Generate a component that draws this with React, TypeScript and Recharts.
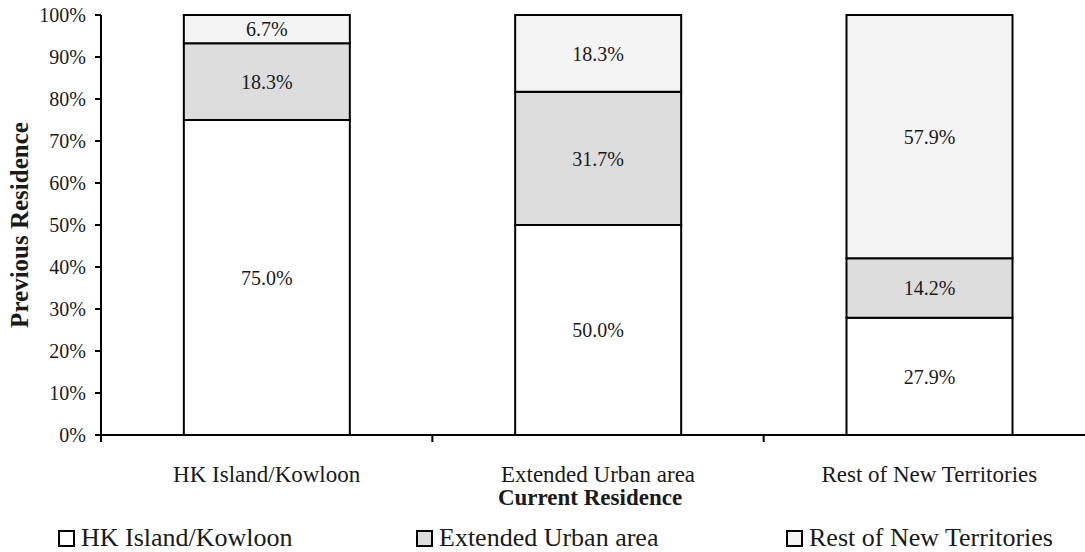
import { BarChart, Bar, XAxis, YAxis, Legend, LabelList } from 'recharts';

// current residence (x categories)
const categories = ['HK Island/Kowloon', 'Extended Urban area', 'Rest of New Territories'];

// previous residence shares, % of each current-residence group
const fromHkKowloon = [75.0, 50.0, 27.9];
const fromExtendedUrban = [18.3, 31.7, 14.2];
const fromRestOfNT = [6.7, 18.3, 57.9];

const yTicks = [0, 10, 20, 30, 40, 50, 60, 70, 80, 90, 100];

const series = [
  { key: 'hk', name: 'HK Island/Kowloon', fill: '#ffffff' },
  { key: 'urban', name: 'Extended Urban area', fill: '#dddddd' },
  { key: 'nt', name: 'Rest of New Territories', fill: '#f4f4f4' },
];

const data = categories.map((name, i) => ({
  name,
  hk: fromHkKowloon[i],
  urban: fromExtendedUrban[i],
  nt: fromRestOfNT[i],
}));

const FONT = '"Liberation Serif", "Times New Roman", serif';
const INK = '#1a1a1a';

const CHART_W = 1100;
const CHART_H = 552;
const MARGIN = { top: 15, right: 5, bottom: 7, left: 0 };
const Y_AXIS_W = 101;
const X_AXIS_H = 80;
const LEGEND_H = 30;
const PLOT_W = CHART_W - MARGIN.left - MARGIN.right - Y_AXIS_W;
const BAND = PLOT_W / categories.length;
const AXIS_Y = CHART_H - MARGIN.bottom - LEGEND_H - X_AXIS_H;

// category label plus the small tick marks that sit between categories
function CategoryTick(props: any) {
  const { x, payload, index } = props;
  const half = BAND / 2;
  return (
    <g>
      <line x1={x - half} x2={x - half} y1={AXIS_Y} y2={AXIS_Y + 7} stroke="#000" strokeWidth={2} />
      {index === categories.length - 1 && (
        <line x1={x + half} x2={x + half} y1={AXIS_Y} y2={AXIS_Y + 7} stroke="#000" strokeWidth={2} />
      )}
      <text x={x} y={AXIS_Y + 47} textAnchor="middle" fontFamily={FONT} fontSize={23} fill={INK}>
        {payload.value}
      </text>
    </g>
  );
}

const legendLeft = [58, 416, 786];

function LegendRow() {
  return (
    <div style={{ position: 'relative', height: LEGEND_H, fontFamily: FONT, fontSize: 26, color: INK }}>
      {series.map((s, i) => (
        <div
          key={s.key}
          style={{ position: 'absolute', left: legendLeft[i], top: 0, height: LEGEND_H, display: 'flex', alignItems: 'center', whiteSpace: 'nowrap' }}
        >
          <span style={{ width: 13, height: 13, border: '2px solid #000', background: s.fill, marginRight: 6, display: 'inline-block' }} />
          {s.name}
        </div>
      ))}
    </div>
  );
}

export default function App() {
  return (
    <div style={{ position: 'absolute', left: 0, top: 0, width: 1085, height: 552, overflow: 'hidden', background: '#fff' }}>
      <BarChart width={CHART_W} height={CHART_H} data={data} margin={MARGIN} barCategoryGap="25%">
        <XAxis
          dataKey="name"
          height={X_AXIS_H}
          tick={<CategoryTick />}
          tickLine={false}
          axisLine={{ stroke: '#000', strokeWidth: 2 }}
          interval={0}
          label={{
            content: ({ viewBox }: any) => (
              <text
                x={viewBox.x + viewBox.width / 2 - 8}
                y={AXIS_Y + 70}
                textAnchor="middle"
                fontFamily={FONT}
                fontSize={23}
                fontWeight="bold"
                fill={INK}
              >
                Current Residence
              </text>
            ),
          }}
        />
        <YAxis
          width={Y_AXIS_W}
          domain={[0, 100]}
          ticks={yTicks}
          interval={0}
          tickFormatter={(v: number) => `${v}%`}
          tick={{ fontFamily: FONT, fontSize: 20, fill: INK }}
          tickSize={6}
          tickMargin={9}
          tickLine={{ stroke: '#000', strokeWidth: 2 }}
          axisLine={{ stroke: '#000', strokeWidth: 2 }}
          label={{
            content: ({ viewBox }: any) => {
              const cx = 19;
              const cy = viewBox.y + viewBox.height / 2;
              return (
                <text
                  x={cx}
                  y={cy}
                  transform={`rotate(-90, ${cx}, ${cy})`}
                  textAnchor="middle"
                  dominantBaseline="central"
                  fontFamily={FONT}
                  fontSize={25}
                  fontWeight="bold"
                  fill={INK}
                >
                  Previous Residence
                </text>
              );
            },
          }}
        />
        <Legend
          content={<LegendRow />}
          wrapperStyle={{ left: 0, top: CHART_H - LEGEND_H + 1, width: 1085, height: LEGEND_H }}
        />
        {series.map((s) => (
          <Bar
            key={s.key}
            dataKey={s.key}
            name={s.name}
            stackId="residence"
            fill={s.fill}
            stroke="#000"
            strokeWidth={2}
            isAnimationActive={false}
          >
            <LabelList
              dataKey={s.key}
              position="center"
              formatter={(v: any) => `${Number(v).toFixed(1)}%`}
              fontFamily={FONT}
              fontSize={20}
              fill={INK}
            />
          </Bar>
        ))}
      </BarChart>
    </div>
  );
}
